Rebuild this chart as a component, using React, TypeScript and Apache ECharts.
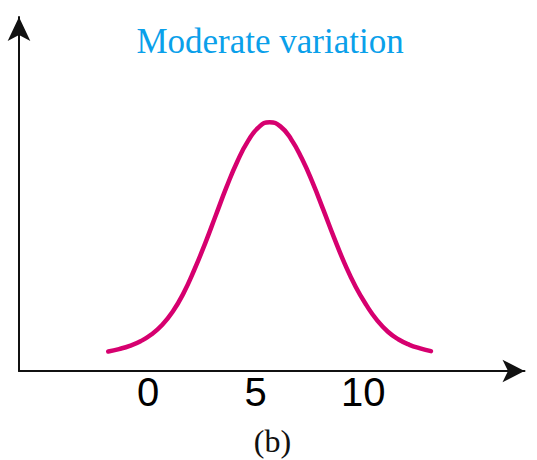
import React, { useEffect, useRef } from "react";
import * as echarts from "echarts";

// Curve (x value, height)
const xValues = [-1.85, -1.35, -0.85, -0.35, 0.15, 0.65, 1.15, 1.65, 2.15, 2.65, 3.15, 3.65, 4.15, 4.65, 5.15, 5.65, 6.15, 6.65, 7.15, 7.65, 8.15, 8.65, 9.15, 9.65, 10.15, 10.65, 11.15, 11.65, 12.15, 12.65, 13.15];
const yValues = [5.5, 6.2, 7.1, 8.4, 10.3, 13.0, 16.8, 22.0, 28.6, 36.0, 44.0, 52.0, 59.2, 65.0, 68.9, 70.3, 69.1, 65.5, 60.0, 53.2, 45.5, 37.6, 30.2, 23.8, 18.6, 14.3, 11.1, 8.9, 7.4, 6.4, 5.6];
const tickLabels = [0, 5, 10];
const titleText = "Moderate variation";
const captionText = "(b)";

const serif = "'Liberation Serif', 'Times New Roman', serif";
const sans = "'Liberation Sans', Arial, sans-serif";

export default function App() {
  const ref = useRef<HTMLDivElement>(null);
  useEffect(() => {
    const chart = echarts.init(ref.current!, null, { renderer: "svg" });
    chart.setOption({
      animation: false,
      backgroundColor: "#ffffff",
      grid: { left: 19, right: 12.5, top: 17, bottom: 89, containLabel: false },
      xAxis: {
        type: "value",
        min: -6,
        max: 17.5,
        splitLine: { show: false },
        axisTick: { show: false },
        axisLine: {
          show: true,
          onZero: false,
          symbol: ["none", "arrow"],
          symbolSize: [17, 22],
          lineStyle: { color: "#111111", width: 2 },
        },
        axisLabel: {
          customValues: tickLabels,
          color: "#000000",
          fontSize: 40,
          fontFamily: sans,
          margin: 1,
        },
      },
      yAxis: {
        type: "value",
        min: 0,
        max: 100,
        splitLine: { show: false },
        axisTick: { show: false },
        axisLabel: { show: false },
        axisLine: {
          show: true,
          onZero: false,
          symbol: ["none", "arrow"],
          symbolSize: [17, 24],
          lineStyle: { color: "#111111", width: 2 },
        },
      },
      graphic: [
        {
          type: "text",
          x: 270,
          y: 24,
          style: {
            text: titleText,
            fill: "#0aa0ea",
            fontSize: 35,
            fontFamily: serif,
            align: "center",
            verticalAlign: "top",
          },
        },
        {
          type: "text",
          x: 272.5,
          y: 425,
          style: {
            text: captionText,
            fill: "#111111",
            fontSize: 32,
            fontFamily: serif,
            align: "center",
            verticalAlign: "top",
          },
        },
      ],
      series: [
        {
          type: "line",
          data: xValues.map((x, i) => [x, yValues[i]]),
          smooth: 0.5,
          showSymbol: false,
          lineStyle: { color: "#d6006f", width: 4.5, cap: "round" },
          silent: true,
        },
      ],
    });
    return () => chart.dispose();
  }, []);
  return (
    <div
      ref={ref}
      style={{ position: "fixed", left: 0, top: 0, width: 537, height: 460, background: "#fff" }}
    />
  );
}
